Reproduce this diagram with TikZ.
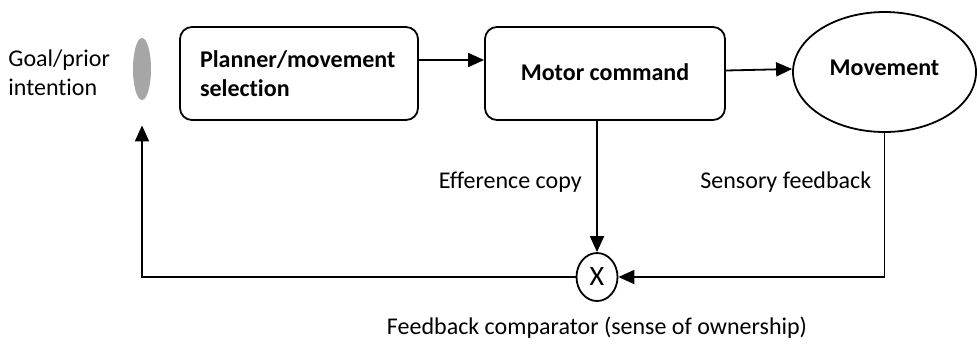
\documentclass[tikz,border=0pt]{standalone}
\usepackage{fontspec}
\setmainfont{Carlito}[Ligatures={NoCommon}]
\usetikzlibrary{arrows.meta,shapes.geometric}

\begin{document}
\begin{tikzpicture}[x=0.5pt, y=-0.5pt,
		every node/.style={font=\fontsize{12}{14.5}\selectfont},
		box/.style={draw, line width=0.9pt, rounded corners=6pt, minimum height=46.5pt, font=\fontsize{12}{14.5}\selectfont\bfseries},
		arr/.style={line width=0.9pt, -{Triangle[length=8pt, width=7pt]}}]
			%%%%% START %%%%%
			\useasboundingbox (0, 0) rectangle (977, 344);
			
			\node[anchor=west, align=left, inner sep=0] (goaltext) at (8, 73) {Goal/prior\\intention};
			\node[ellipse, fill=black!35, minimum width=9pt, minimum height=31pt, inner sep=0] (goal) at (142, 69) {};
			
			\node[box, text width=99pt, inner xsep=10pt, align=left] (planner) at (299, 73.5) {Planner/movement\\selection};
			\node[box, minimum width=120pt] (motor) at (605, 73.5) {\raisebox{1.75pt}{Motor command}};
			\node[ellipse, draw, line width=0.9pt, minimum width=91.5pt, minimum height=60pt, font=\fontsize{12}{14.5}\selectfont\bfseries] (movement) at (884.5, 72) {\raisebox{4.5pt}{Movement}};
			
			\node[ellipse, draw, line width=0.9pt, minimum width=20.5pt, minimum height=24pt, inner sep=0, font=\fontsize{14}{16}\selectfont] (comp) at (597, 277) {X};
			
			\draw[arr] ([yshift=6.75pt]planner.east) -- ([yshift=6.75pt]motor.west);
			\draw[arr] ([yshift=1.5pt]motor.east) -- ([yshift=1.5pt]movement.west);
			
			\draw[arr] (motor.south -| comp) -- (comp.north);
			\draw[arr] (movement.south) |- (comp.east);
			\draw[arr] (comp.west) -| ([yshift=-12.5pt]goal.south);
			
			\node[anchor=east, inner sep=0] (efftext) at (582, 182) {Efference copy};
			\node[anchor=west, inner sep=0] (senstext) at (700, 182) {Sensory feedback};
			\node[inner sep=0] (comptext) at (597, 328) {Feedback comparator (sense of ownership)};
			%%%%% END %%%%%
\end{tikzpicture}
\end{document}
